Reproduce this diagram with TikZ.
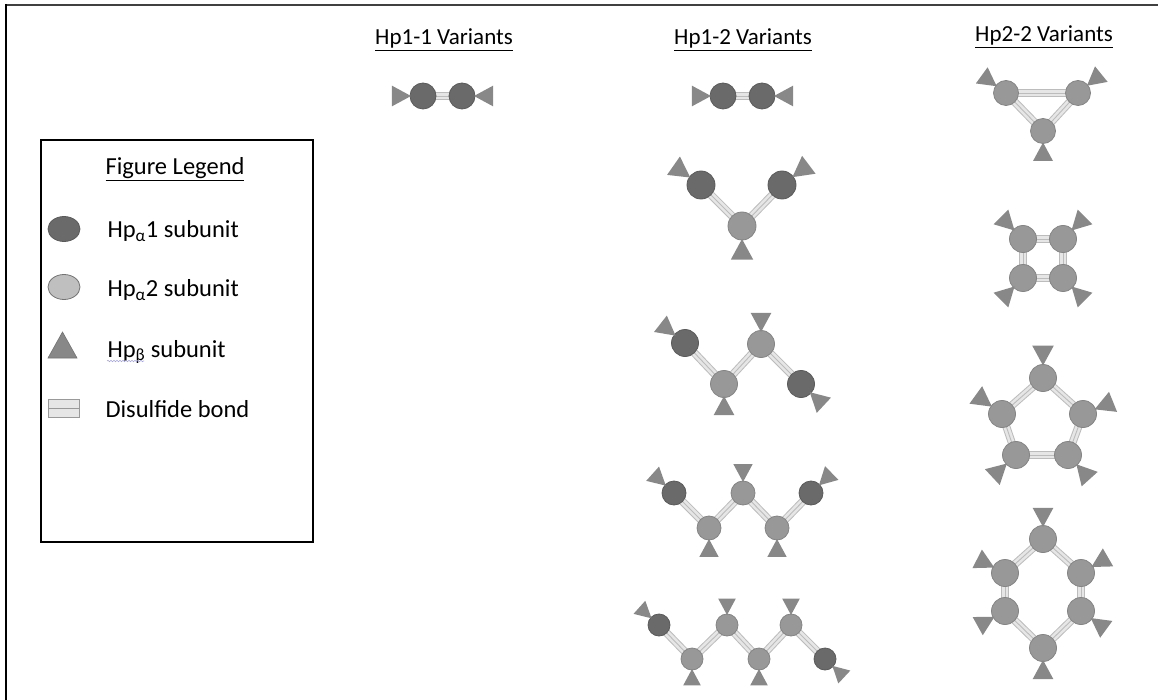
\documentclass[tikz,border=0pt]{standalone}
\usepackage{fontspec}
\setmainfont{Carlito}
\usetikzlibrary{calc, backgrounds, shapes.geometric, decorations.pathmorphing}
\definecolor{aonefill}{RGB}{106,106,106}
\definecolor{aoneline}{RGB}{90,90,90}
\definecolor{atwofill}{RGB}{152,152,152}
\definecolor{atwoline}{RGB}{132,132,132}
\definecolor{betafill}{RGB}{136,136,136}
\definecolor{bondline}{RGB}{188,188,188}
\definecolor{bondfill}{RGB}{230,230,230}
\tikzset{
  hpone/.style={circle, inner sep=0pt, minimum size=#1, fill=aonefill,
                draw=aoneline, line width=0.8pt},
  hpone/.default=26,
  hptwo/.style={circle, inner sep=0pt, minimum size=#1, fill=atwofill,
                draw=atwoline, line width=0.8pt},
  hptwo/.default=26,
  hpbeta/.style={fill=betafill},
  bond/.style={line width=8pt, draw=bondline,
               postaction={draw=bondfill, line width=6pt},
               postaction={draw=bondline, line width=0.9pt}},
  heading/.style={font=\fontsize{23}{27}\selectfont, anchor=base},
  legtitle/.style={font=\fontsize{24.5}{29}\selectfont, anchor=base},
  legtext/.style={font=\fontsize{24.5}{29}\selectfont, anchor=base west}
}
% beta subunit: triangle pointing at a subunit node, #1 radius, #3 direction
\newcommand{\hpb}[3][13]{%
  \fill[hpbeta] ($(#2)+({#3}:{#1-1})$)
    -- ($(#2)+({#3}:{2.4*#1})+({#3+90}:{0.8*#1})$)
    -- ($(#2)+({#3}:{2.4*#1})+({#3-90}:{0.8*#1})$) -- cycle;}

\begin{document}
\begin{tikzpicture}[x=1pt,y=-1pt]
\useasboundingbox (0,0) rectangle (1158,700);

% ── frame ────────────────────────────────────────────────────────────────
\draw[line width=2pt, black!75] (5,5) -- (1158,5);
\draw[line width=2.5pt] (6,4) -- (6,700);

% ── column headings ─────────────────────────────────────────────────────
\node[heading] (h11) at (444,45) {\underline{Hp1-1 Variants}};
\node[heading] (h12) at (743,45) {\underline{Hp1-2 Variants}};
\node[heading] (h22) at (1044,42) {\underline{Hp2-2 Variants}};

% ── legend ──────────────────────────────────────────────────────────────
\draw[line width=1.3pt] (41,140) rectangle (313,542);
\node[legtitle] (legtitle) at (175,175) {\underline{Figure Legend}};
\node[hpone, ellipse, minimum width=32, minimum height=25] (keyone) at (64,229) {};
\node[hptwo, ellipse, minimum width=32, minimum height=25, fill=black!25,
      draw=black!55] (keytwo) at (64,287) {};
\filldraw[hpbeta, draw=black!55, line width=0.6pt]
  (48,358) -- (77,358) -- (62.5,332) -- cycle;
\draw[fill=bondfill, draw=black!40, line width=0.8pt] (48,399) rectangle (79,408);
\draw[fill=bondfill, draw=black!40, line width=0.8pt] (48,408) rectangle (79,417);
\node[legtext] (txtone) at (104,238) {Hp\textsubscript{α}1 subunit};
\node[legtext] (txttwo) at (104,297) {Hp\textsubscript{α}2 subunit};
\node[legtext] (txtbeta) at (104,357) {Hp\textsubscript{β} subunit};
\node[legtext] (txtbond) at (102,417) {Disulfide bond};
\draw[decorate, decoration={snake, amplitude=0.7pt, segment length=3pt},
      black!40!blue!35, line width=0.6pt]
  ($(txtbeta.base west)+(3,4)$) -- ($(txtbeta.base west)+(40,4)$);

% ── Hp1-1 ───────────────────────────────────────────────────────────────
\node[hpone] (s1a) at (423,96) {};
\node[hpone] (s1b) at (462,96) {};
\hpb{s1a}{180} \hpb{s1b}{0}

% ── Hp1-2 ───────────────────────────────────────────────────────────────
% dimer
\node[hpone] (m1a) at (723,96) {};
\node[hpone] (m1b) at (762,96) {};
\hpb{m1a}{180} \hpb{m1b}{0}
% trimer
\node[hpone=28] (m2a) at (701,185) {};
\node[hptwo=28] (m2b) at (742,226) {};
\node[hpone=28] (m2c) at (782,185) {};
\hpb[14]{m2a}{215} \hpb[14]{m2b}{90} \hpb[14]{m2c}{323}
% tetramer
\node[hpone=27] (m3a) at (685,343) {};
\node[hptwo=27] (m3b) at (724,384) {};
\node[hptwo=27] (m3c) at (761,344) {};
\node[hpone=27] (m3d) at (801,384) {};
\hpb[13]{m3a}{218} \hpb[13]{m3b}{90} \hpb[13]{m3c}{270} \hpb[13]{m3d}{43}
% pentamer
\node[hpone=24] (m4a) at (674,493) {};
\foreach \n/\x/\y in {b/709/528, c/743/493, d/777/528}
  \node[hptwo=24] (m4\n) at (\x,\y) {};
\node[hpone=24] (m4e) at (811,493) {};
\foreach \n/\a in {a/222, b/90, c/270, d/90, e/316}
  {\hpb[12]{m4\n}{\a}}
% hexamer
\node[hpone=22] (m5a) at (659,625) {};
\foreach \n/\x/\y in {b/692/659, c/727/625, d/759/659, e/791/625}
  \node[hptwo=22] (m5\n) at (\x,\y) {};
\node[hpone=22] (m5f) at (825,659) {};
\foreach \n/\a in {a/222, b/90, c/270, d/90, e/270, f/43}
  {\hpb[11]{m5\n}{\a}}

% ── Hp2-2 ───────────────────────────────────────────────────────────────
% ring of three
\foreach \n/\x/\y in {a/1006/93, b/1078/93, c/1043/131}
  \node[hptwo=25] (r3\n) at (\x,\y) {};
\foreach \n/\a in {a/216, b/321, c/90}
  {\hpb[12.5]{r3\n}{\a}}
% ring of four
\foreach \n/\x/\y in {a/1023/239, b/1063/239, c/1063/278, d/1023/278}
  \node[hptwo=27] (r4\n) at (\x,\y) {};
\foreach \n/\a in {a/225, b/315, c/45, d/135}
  {\hpb[13]{r4\n}{\a}}
% ring of five
\foreach \n/\x/\y in {a/1043/378, b/1083/414, c/1068/455, d/1016/455, e/1002/414}
  \node[hptwo=27] (r5\n) at (\x,\y) {};
\foreach \n/\a in {a/270, b/338, c/48, d/137, e/216}
  {\hpb[13.5]{r5\n}{\a}}
% ring of six
\foreach \n/\x/\y in {a/1043/539, b/1081/573, c/1081/611, d/1043/648, e/1005/611, f/1005/573}
  \node[hptwo=27] (r6\n) at (\x,\y) {};
\foreach \n/\a in {a/270, b/330, c/36, d/90, e/151, f/207}
  {\hpb[13]{r6\n}{\a}}

% disulfide bonds behind the subunits
\begin{scope}[on background layer]
  \foreach \p/\q in {s1a/s1b, m1a/m1b, m2a/m2b, m2b/m2c,
                     m3a/m3b, m3b/m3c, m3c/m3d,
                     m4a/m4b, m4b/m4c, m4c/m4d, m4d/m4e,
                     m5a/m5b, m5b/m5c, m5c/m5d, m5d/m5e, m5e/m5f,
                     r3a/r3b, r3b/r3c, r3c/r3a,
                     r4a/r4b, r4b/r4c, r4c/r4d, r4d/r4a,
                     r5a/r5b, r5b/r5c, r5c/r5d, r5d/r5e, r5e/r5a,
                     r6a/r6b, r6b/r6c, r6c/r6d, r6d/r6e, r6e/r6f, r6f/r6a}
    \draw[bond] (\p.center) -- (\q.center);
\end{scope}

\end{tikzpicture}
\end{document}
